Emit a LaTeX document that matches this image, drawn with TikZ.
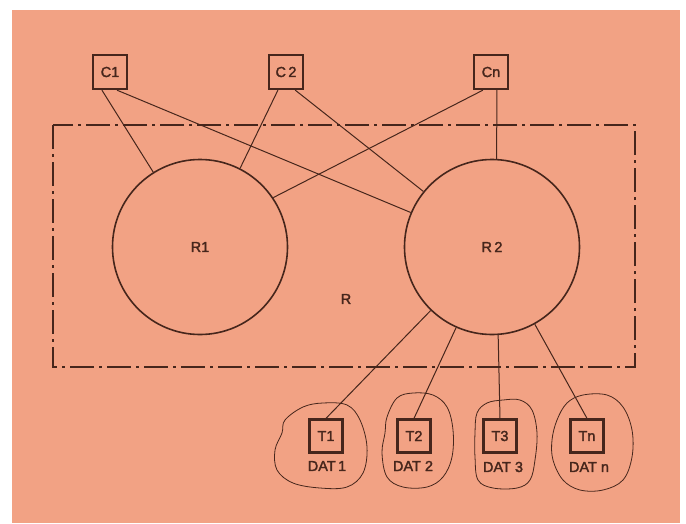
\documentclass[tikz,border=0pt]{standalone}
\usepackage{fontspec}
\setmainfont{Liberation Sans}
\newfontfamily\medfont[FakeBold=2]{Liberation Sans}
\definecolor{paper}{RGB}{242,162,132}
\definecolor{ink}{RGB}{70,38,28}
\begin{document}
\begin{tikzpicture}[x=1pt,y=-1pt,
  every node/.style={text=ink, font=\medfont\fontsize{14.5}{16}\selectfont},
  cbox/.style={draw=ink, line width=2.3pt, minimum size=34pt, inner sep=0pt},
  tbox/.style={draw=ink, line width=2.3pt, minimum size=33pt, inner sep=0pt},
  region/.style={circle, draw=ink, line width=1.6pt, minimum size=175pt, inner sep=0pt},
  conn/.style={draw=ink, line width=1pt},
  blob/.style={draw=ink, line width=0.8pt},
  dashdot/.style={draw=ink, line width=1.2pt, dash pattern=on 24pt off 5pt on 3pt off 5pt}]
\useasboundingbox (0,0) rectangle (686,523);
\fill[white] (0,0) rectangle (686,523);
\fill[paper] (12,10) rectangle (680,523);

% system boundary R
\draw[dashdot] (53,125) rectangle (635,367);
\node (R) at (346,299) {R};

% regions
\node[region] (R1) at (200,247) {R1};
\node[region] (R2) at (492,247) {R\,2};

% C boxes
\node[cbox] (C1) at (110,72) {C1};
\node[cbox] (C2) at (286,72) {C\,2};
\node[cbox] (Cn) at (491,72) {Cn};

% T boxes
\node[tbox] (T1) at (326,436) {T1};
\node[tbox] (T2) at (414,436) {T2};
\node[tbox] (T3) at (500,436) {T3};
\node[tbox] (Tn) at (587,436) {Tn};

\node (D1) at (327,466) {DAT\,1};
\node (D2) at (413,466) {DAT 2};
\node (D3) at (503,467) {DAT 3};
\node (Dn) at (589,467) {DAT n};

% connectors
\draw[conn] (C1.-114) -- (R1.122);
\draw[conn] (C1.-69) -- (R2.157);
\draw[conn] (C2.-114) -- (R1.63);
\draw[conn] (C2.-63) -- (R2.141);
\draw[conn] (Cn.-114) -- (R1.34);
\draw[conn] (Cn.-72) -- (R2.87);
\draw[conn] (R2.-134) -- (T1.north);
\draw[conn] (R2.-114) -- (T2.north);
\draw[conn] (R2.-86) -- (T3.north);
\draw[conn] (R2.-61) -- (Tn.north);

% hand-drawn blobs
\draw[blob] plot[smooth cycle, tension=0.6] coordinates {(285,420) (303,407) (323,403) (347,405) (360,420) (367,447) (363,473) (347,487) (320,488) (293,483) (277,470) (275,450) (282,433)};
\draw[blob] plot[smooth cycle, tension=0.6] coordinates {(387,417) (397,398) (413,393) (433,395) (447,407) (453,430) (452,457) (443,477) (427,487) (403,487) (387,477) (382,453) (385,433)};
\draw[blob] plot[smooth cycle, tension=0.6] coordinates {(477,413) (487,403) (503,400) (520,400) (532,410) (537,433) (535,460) (530,480) (517,488) (493,488) (478,480) (475,457) (475,433)};
\draw[blob] plot[smooth cycle, tension=0.6] coordinates {(557,420) (567,403) (583,395) (607,395) (623,407) (632,430) (632,457) (623,480) (603,490) (580,490) (563,480) (553,460) (552,440)};
\end{tikzpicture}
\end{document}
